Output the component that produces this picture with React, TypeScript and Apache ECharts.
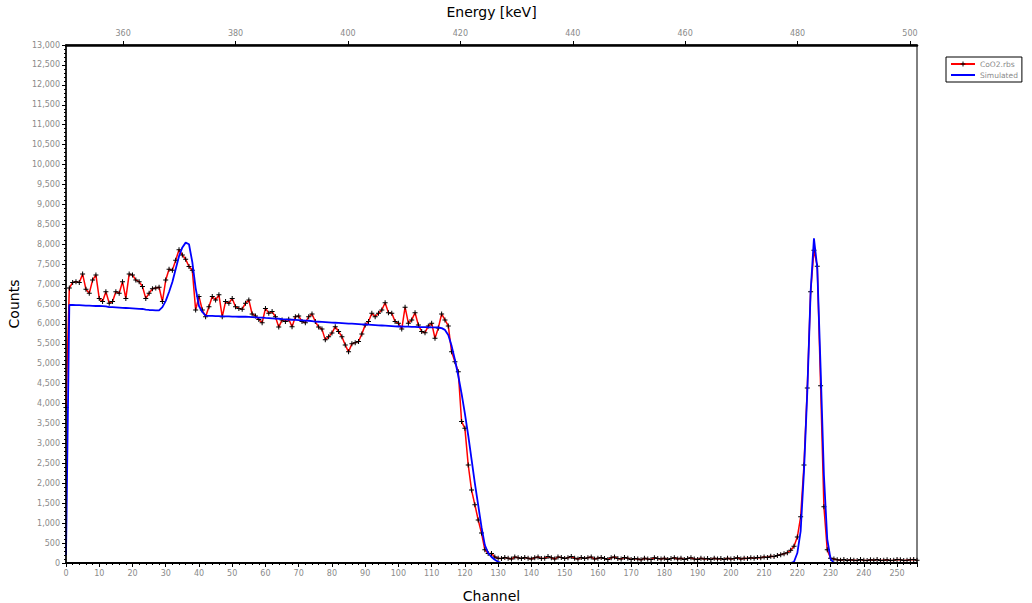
import React, { useEffect, useRef } from "react";
import * as echarts from "echarts";

const measured: number[] = [
  3900, 6900, 7040, 7060, 7040, 7250, 6870, 6770, 7100, 7230,
  6640, 6560, 6810, 6520, 6560, 6810, 6770, 7060, 6640, 7250,
  7230, 7100, 7060, 6940, 6640, 6770, 6880, 6900, 6920, 6560,
  7100, 7370, 7350, 7600, 7860, 7730, 7620, 7440, 7350, 6350,
  6690, 6350, 6180, 6430, 6690, 6600, 6730, 6180, 6560, 6520,
  6640, 6430, 6390, 6370, 6520, 6600, 6250, 6200, 6110, 6030,
  6390, 6270, 6310, 6180, 5920, 6100, 6060, 6120, 5930, 6180,
  6200, 6060, 6030, 6180, 6250, 6060, 5920, 5870, 5600, 5680,
  5770, 5930, 5810, 5680, 5470, 5300, 5500, 5530, 5560, 5750,
  5970, 6060, 6270, 6180, 6270, 6350, 6530, 6280, 6270, 6060,
  6020, 5870, 6420, 6020, 6100, 6280, 5970, 5810, 5780, 5950,
  6020, 5640, 5900, 6250, 6100, 5950, 5300, 5050, 4800, 3550,
  3380, 2460, 1830, 1460, 1080, 750, 330, 240, 240, 150,
  120, 110, 140, 120, 100, 150, 130, 110, 140, 120,
  100, 130, 150, 110, 120, 160, 130, 100, 150, 140,
  110, 130, 160, 120, 100, 140, 110, 130, 150, 100,
  120, 140, 110, 90, 130, 150, 110, 100, 140, 120,
  90, 110, 100, 80, 120, 100, 90, 130, 110, 100,
  120, 90, 110, 130, 100, 120, 90, 110, 130, 100,
  90, 120, 100, 110, 90, 120, 100, 110, 90, 120,
  100, 110, 130, 100, 120, 110, 130, 120, 140, 130,
  150, 140, 170, 160, 190, 210, 230, 260, 320, 420,
  650, 1160, 2460, 4390, 6810, 7850, 7450, 4450, 1410, 330,
  120, 100, 80, 70, 90, 60, 80, 70, 60, 90,
  70, 60, 80, 70, 90, 60, 70, 80, 60, 70,
  90, 80, 60, 70, 80, 90, 70,
];

const simulated: number[] = [
  200, 6480, 6475, 6470, 6470, 6465, 6460, 6460, 6455, 6450,
  6450, 6445, 6440, 6420, 6420, 6415, 6410, 6405, 6400, 6395,
  6390, 6385, 6380, 6375, 6360, 6350, 6345, 6340, 6340, 6420,
  6580, 6800, 7050, 7380, 7700, 7920, 8040, 8000, 7550, 6900,
  6450, 6300, 6210, 6200, 6200, 6195, 6195, 6190, 6190, 6190,
  6185, 6185, 6180, 6180, 6180, 6175, 6170, 6165, 6160, 6160,
  6150, 6145, 6140, 6135, 6130, 6120, 6115, 6110, 6105, 6100,
  6095, 6090, 6085, 6080, 6070, 6060, 6055, 6050, 6045, 6040,
  6035, 6030, 6025, 6020, 6015, 6010, 6005, 6000, 5995, 5990,
  5985, 5980, 5975, 5970, 5965, 5960, 5955, 5950, 5945, 5940,
  5935, 5935, 5930, 5930, 5925, 5925, 5920, 5920, 5920, 5915,
  5915, 5915, 5910, 5895, 5850, 5720, 5450, 5100, 4700, 4250,
  3750, 3200, 2600, 2000, 1450, 900, 450, 250, 150, 80,
  30, 0, 0, 0, 0, 0, 0, 0, 0, 0,
  0, 0, 0, 0, 0, 0, 0, 0, 0, 0,
  0, 0, 0, 0, 0, 0, 0, 0, 0, 0,
  0, 0, 0, 0, 0, 0, 0, 0, 0, 0,
  0, 0, 0, 0, 0, 0, 0, 0, 0, 0,
  0, 0, 0, 0, 0, 0, 0, 0, 0, 0,
  0, 0, 0, 0, 0, 0, 0, 0, 0, 0,
  0, 0, 0, 0, 0, 0, 0, 0, 0, 0,
  0, 0, 0, 0, 0, 0, 0, 0, 0, 30,
  250, 800, 2300, 4300, 6800, 8150, 7400, 4900, 2200, 600,
  100, 0, 0, 0, 0, 0, 0, 0, 0, 0,
  0, 0, 0, 0, 0, 0, 0, 0, 0, 0,
  0, 0, 0, 0, 0, 0, 0,
];

const energyTicks: number[] = [360, 380, 400, 420, 440, 460, 480, 500];
const channelRange: number[] = [0, 256];
const energyRange: number[] = [349.83, 501.25];
const countRange: number[] = [0, 13000];

const labelColor = "#8a8a8a";
const fontFamily = "'DejaVu Sans', 'Liberation Sans', sans-serif";

export default function App() {
  const ref = useRef<HTMLDivElement>(null);
  useEffect(() => {
    document.body.style.margin = "0";
    if (!ref.current) return;
    const chart = echarts.init(ref.current, undefined, { renderer: "svg" });
    const cross = "path://M4,0h2v10h-2z M0,4h10v2h-10z";
    chart.setOption({
      animation: false,
      backgroundColor: "#ffffff",
      grid: {
        left: 66,
        right: 115,
        top: 45,
        bottom: 40,
        outerBoundsMode: "none",
        containLabel: false,
        show: true,
        borderColor: "#000",
        borderWidth: 1,
        backgroundColor: "transparent",
      },
      legend: {
        orient: "vertical",
        left: 946,
        top: 57,
        borderColor: "#000",
        borderWidth: 1,
        padding: [3, 4, 3, 4],
        itemWidth: 24,
        itemHeight: 6,
        itemGap: 3,
        textStyle: { fontSize: 7.5, color: labelColor, fontFamily },
        data: [
          { name: "CoO2.rbs" },
          { name: "Simulated", icon: "path://M0,0h24v2h-24z" },
        ],
      },
      xAxis: [
        {
          type: "value",
          min: channelRange[0],
          max: channelRange[1],
          interval: 10,
          position: "bottom",
          z: 10,
          name: "Channel",
          nameLocation: "middle",
          nameGap: 26,
          nameTextStyle: { fontSize: 14, color: "#000", fontFamily },
          axisLine: { show: true, onZero: false, lineStyle: { color: "#000", width: 2 } },
          axisTick: { show: true, inside: false, length: 4, lineStyle: { color: "#000" } },
          minorTick: { show: true, splitNumber: 5, length: 2, lineStyle: { color: "#000" } },
          axisLabel: {
            fontSize: 8,
            color: labelColor,
            fontFamily,
            margin: 6,
            showMaxLabel: false,
          },
          splitLine: { show: false },
          minorSplitLine: { show: false },
        },
        {
          type: "value",
          min: energyRange[0],
          max: energyRange[1],
          position: "top",
          z: 10,
          name: "Energy [keV]",
          nameLocation: "middle",
          nameGap: 26,
          nameTextStyle: { fontSize: 14, color: "#000", fontFamily },
          axisLine: { show: true, onZero: false, lineStyle: { color: "#000", width: 2.5 } },
          axisTick: {
            show: true,
            inside: false,
            length: 4,
            customValues: energyTicks,
            lineStyle: { color: "#000" },
          },
          axisLabel: {
            fontSize: 8,
            color: labelColor,
            fontFamily,
            margin: 8,
            customValues: energyTicks,
          },
          splitLine: { show: false },
        },
      ],
      yAxis: {
        type: "value",
        min: countRange[0],
        max: countRange[1],
        interval: 500,
        z: 10,
        name: "Counts",
        nameLocation: "middle",
        nameGap: 40,
        nameTextStyle: { fontSize: 14, color: "#000", fontFamily },
        axisLine: { show: true, onZero: false, lineStyle: { color: "#000", width: 1.5 } },
        axisTick: { show: true, inside: false, length: 4, lineStyle: { color: "#000" } },
        minorTick: { show: true, splitNumber: 5, length: 2, lineStyle: { color: "#000" } },
        axisLabel: {
          fontSize: 8,
          color: labelColor,
          fontFamily,
          margin: 6,
          formatter: (v: number) => v.toLocaleString("en-US"),
        },
        splitLine: { show: false },
        minorSplitLine: { show: false },
      },
      series: [
        {
          name: "CoO2.rbs",
          type: "line",
          xAxisIndex: 0,
          data: measured.map((v, i) => [i, v]),
          symbol: cross,
          symbolSize: 5,
          showSymbol: true,
          itemStyle: { color: "#000" },
          lineStyle: { color: "#ff0000", width: 1.5 },
          color: "#ff0000",
          z: 2,
        },
        {
          name: "Simulated",
          type: "line",
          xAxisIndex: 0,
          data: simulated.map((v, i) => [i, v]),
          symbol: "none",
          itemStyle: { color: "#0000ff" },
          lineStyle: { color: "#0000ff", width: 1.8 },
          color: "#0000ff",
          z: 3,
        },
      ],
    });
    return () => chart.dispose();
  }, []);
  return (
    <div
      ref={ref}
      style={{ position: "fixed", left: 0, top: 0, width: 1032, height: 603, background: "#fff" }}
    />
  );
}
